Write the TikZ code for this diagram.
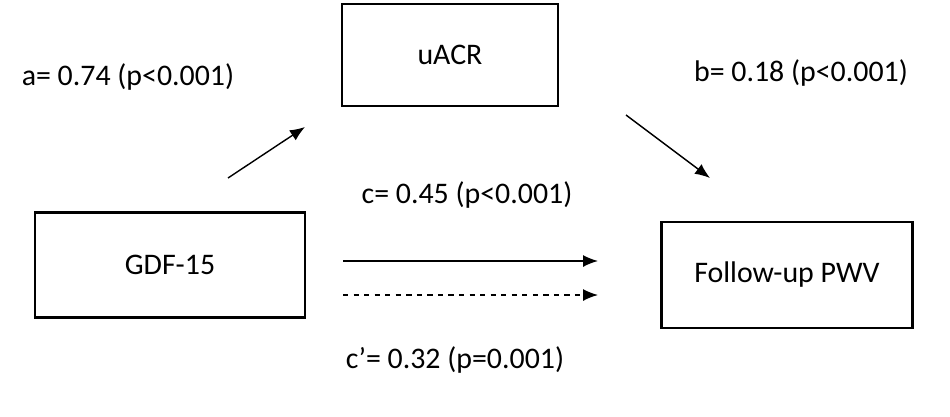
\documentclass[tikz,border=0pt]{standalone}
\usepackage{fontspec}
\setmainfont{Carlito}
\usetikzlibrary{arrows.meta}
\tikzset{
  box/.style={draw,line width=1.2pt,inner sep=0pt},
  lbl/.style={font=\fontsize{17}{20}\selectfont},
}
\begin{document}
\begin{tikzpicture}[x=0.02cm,y=-0.02cm]
		\useasboundingbox (0,0) rectangle (950,416);
		\node[box,minimum width=216*0.02cm,minimum height=102*0.02cm,lbl] (U) at (450,55) {uACR};
		\node[box,minimum width=270*0.02cm,minimum height=105*0.02cm,lbl] (G) at (170,265) {GDF-15};
		\node[box,minimum width=251*0.02cm,minimum height=106*0.02cm,lbl] (P) at (787,275) {Follow-up PWV};
		%
		\coordinate (a1) at (228,178);
		\coordinate (a2) at (305,127);
		\coordinate (b1) at (626,115);
		\coordinate (b2) at (710,178);
		\coordinate (c1) at (343,261);
		\coordinate (c2) at (598,261);
		\coordinate (d1) at (343,295);
		\coordinate (d2) at (598,295);
		%
		\path[-{Latex[length=0.3cm,width=0.24cm]},line width=0.8pt]
		(a1) edge (a2)
		(b1) edge (b2)
		(c1) edge (c2)
		(d1) edge[dashed] (d2);
		%
		\node[lbl] (la) at (128,77) {a= 0.74 (p<0.001)};
		\node[lbl] (lb) at (801,73) {b= 0.18 (p<0.001)};
		\node[lbl] (lc) at (467,195) {c= 0.45 (p<0.001)};
		\node[lbl] (ld) at (455,360) {c’= 0.32 (p=0.001)};
\end{tikzpicture}
\end{document}
